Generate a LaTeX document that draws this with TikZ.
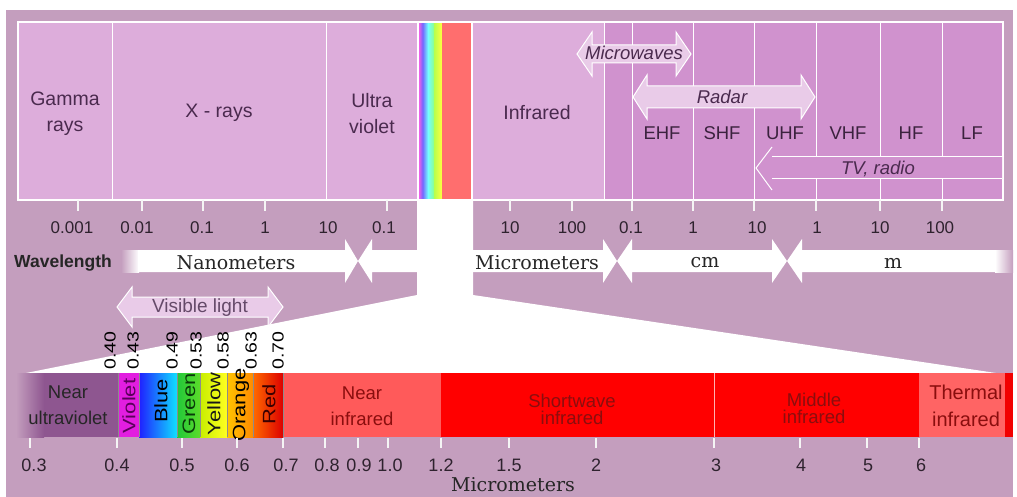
\documentclass[tikz,border=0pt]{standalone}
\usepackage{fontspec}
\setmainfont{Liberation Sans}
\newfontfamily\serifdv{DejaVu Serif}
\usetikzlibrary{calc}

\definecolor{bgmauve}{HTML}{C49EBE}
\definecolor{celllight}{HTML}{DDADDB}
\definecolor{celldark}{HTML}{D092CE}
\definecolor{txtpurple}{HTML}{4A2A4E}
\definecolor{arrowpale}{HTML}{E9CBE8}
\definecolor{numdark}{HTML}{2E222E}
\definecolor{nearuv}{HTML}{8E5690}
\definecolor{violetband}{HTML}{E21EE0}
\definecolor{nirband}{HTML}{FF5A5A}
\definecolor{tirband}{HTML}{FF6464}
\definecolor{darkred}{HTML}{8A0E0E}
\definecolor{salmonstrip}{HTML}{FF6E6E}
\definecolor{blueL}{HTML}{2020FF}
\definecolor{blueR}{HTML}{10E0FF}
\definecolor{greenL}{HTML}{22C83A}
\definecolor{greenR}{HTML}{5CDC2A}
\definecolor{yellowL}{HTML}{C8EE00}
\definecolor{yellowR}{HTML}{FFFF20}
\definecolor{orangeL}{HTML}{FFC400}
\definecolor{orangeR}{HTML}{FF8A00}
\definecolor{redL}{HTML}{FF6A00}
\definecolor{redM}{HTML}{FF1A00}
\definecolor{redR}{HTML}{DC0000}
\definecolor{endstrip}{HTML}{F20000}
\definecolor{violettxt}{HTML}{5A005A}
\definecolor{greentxt}{HTML}{0A3A0A}
\definecolor{redtxt}{HTML}{3A0000}

\newcommand\dblarr[6]{% x1, x2, yc, half shaft, half head, head length
  (#1,#3) -- ({#1+#6},{#3-#5}) -- ({#1+#6},{#3-#4}) -- ({#2-#6},{#3-#4})
  -- ({#2-#6},{#3-#5}) -- (#2,#3) -- ({#2-#6},{#3+#5}) -- ({#2-#6},{#3+#4})
  -- ({#1+#6},{#3+#4}) -- ({#1+#6},{#3+#5}) -- cycle}
% text stretched along its own direction
\newcommand\stretchtxt[1]{\scalebox{1.22}[1]{#1}}

\tikzset{
  celltext/.style={text=txtpurple, font=\fontsize{19.5}{26}\selectfont, align=center, inner sep=0pt},
  bandtext/.style={text=txtpurple!80!black, font=\fontsize{18.5}{22}\selectfont, inner sep=0pt},
  arrowtext/.style={text=txtpurple, font=\fontsize{18.5}{22}\selectfont\itshape, inner sep=0pt},
  scalenum/.style={text=numdark, font=\fontsize{17}{20}\selectfont, inner sep=0pt},
  unittext/.style={text=black!85, font=\serifdv\fontsize{19}{22}\selectfont, inner sep=0pt},
  paleflat/.style={fill=arrowpale, draw=white, line width=1pt, line join=miter},
  whiteline/.style={draw=white, line width=1.2pt},
  tickmark/.style={draw=white!92!gray, line width=1.2pt},
  visnum/.style={text=black, font=\fontsize{16}{18}\selectfont, rotate=90, anchor=west, inner sep=0pt},
  spectext/.style={font=\fontsize{18.5}{26}\selectfont, align=center, inner sep=0pt},
  coltext/.style={font=\fontsize{18}{20}\selectfont, rotate=90, inner sep=0pt},
}

\begin{document}
\begin{tikzpicture}[x=1pt,y=-1pt]
\useasboundingbox (0,0) rectangle (1017,497);
\fill[white] (0,0) rectangle (1017,497);
\fill[bgmauve] (6,10) rectangle (1013,497);

% ---- upper band: regions of the spectrum
\fill[celllight] (18,22) rectangle (604,200);
\fill[celldark] (604,22) rectangle (1003,200);
% visible slice in the upper band
\fill[white] (417,22) rectangle (473,200);
\shade[left color=violetband!70!white, right color=blue!60!white] (419,23) rectangle (423,199);
\shade[left color=blue!55!white, right color=cyan!55!white] (423,23) rectangle (428,199);
\shade[left color=cyan!55!white, right color=green!45!white] (428,23) rectangle (434,199);
\shade[left color=green!40!yellow!70!white, right color=yellow!75!white] (434,23) rectangle (442,199);
\fill[salmonstrip] (442,23) rectangle (471,199);

\draw[whiteline] (18,22) rectangle (1003,200);
\foreach \xx in {112,326,604,632,693,754,816,880,942}
  \draw[whiteline, line width=0.9pt] (\xx,22) -- (\xx,200);

% ---- white funnel leading to the enlarged scale
\fill[white] (417,200) -- (473,200) -- (473,295) -- (996,373) -- (26,373) -- (417,295) -- cycle;

% ---- top band labels
\node[celltext] (gamma) at (65,114) {Gamma\\rays};
\node[celltext] (xray) at (219,113) {X - rays};
\node[celltext] (uv) at (372,114) {Ultra\\violet};
\node[celltext] (ir) at (537,113) {Infrared};
\node[bandtext] (ehf) at (662,133) {EHF};
\node[bandtext] (shf) at (722,133) {SHF};
\node[bandtext] (uhf) at (785,133) {UHF};
\node[bandtext] (vhf) at (848,133) {VHF};
\node[bandtext] (hf) at (911,133) {HF};
\node[bandtext] (lf) at (972,133) {LF};

% TV, radio arrow (outline only)
\fill[celldark] (1002,157) -- (772,157) -- (772,147) -- (756,168) -- (772,190) -- (772,179) -- (1002,179) -- cycle;
\draw[white, line width=1pt] (1002,157) -- (772,157);
\draw[white, line width=1pt] (1002,179) -- (772,179);
\draw[white, line width=1pt] (772,147) -- (756,168) -- (772,190);
\node[arrowtext] (tv) at (878,169) {TV, radio};

% Microwaves and Radar arrows
\path[paleflat] \dblarr{577}{691}{54}{9}{22}{15};
\node[arrowtext] (micro) at (634,53) {Microwaves};
\path[paleflat] \dblarr{633}{815}{97}{11}{22}{14};
\node[arrowtext] (radar) at (722,97) {Radar};

% ---- ticks and numbers under the upper band
\foreach \xx in {78,142,203,265,387,510,572,632,693,754,816,880,942}
  \draw[tickmark] (\xx,200) -- (\xx,211);
\foreach \xx/\lab in {72/0.001,137/0.01,202/0.1,265/1,328/10,384/0.1,510/10,572/100,631/0.1,693/1,757/10,817/1,880/10,940/100}
  \node[scalenum] at (\xx,228) {\lab};

% ---- wavelength unit arrows
\node[text=black!85, font=\fontsize{17.5}{20}\selectfont\bfseries, inner sep=0pt] (wl) at (63,263) {Wavelength};
\shade[left color=bgmauve, right color=white] (121,250) rectangle (139,272);
\fill[white] (138,250) -- (345,250) -- (345,239) -- (358,261) -- (345,283) -- (345,272) -- (138,272) -- cycle;
\fill[white] (358,261) -- (372,239) -- (372,250) -- (418,250) -- (418,272) -- (372,272) -- (372,283) -- cycle;
\fill[white] (472,250) -- (603,250) -- (603,239) -- (617,261) -- (603,283) -- (603,272) -- (472,272) -- cycle;
\fill[white] \dblarr{617}{787}{261}{11}{22}{15};
\fill[white] (787,261) -- (802,239) -- (802,250) -- (996,250) -- (996,272) -- (802,272) -- (802,283) -- cycle;
\shade[left color=white, right color=bgmauve] (995,250) rectangle (1013,272);
\node[unittext] (nano) at (236,263) {Nanometers};
\node[unittext] (microm) at (537,263) {Micrometers};
\node[unittext] (cm) at (705,263) {cm};
\node[unittext] (m) at (893,263) {m};

% ---- visible light arrow
\path[paleflat] \dblarr{117}{283}{307}{10}{20}{15};
\node[text=txtpurple!85!white, font=\fontsize{19}{22}\selectfont, inner sep=0pt] (vis) at (200,308) {Visible light};

% ---- enlarged scale (0.3 to 7 micrometres)
\shade[left color=bgmauve, right color=nearuv] (16,373) rectangle (44,437);
\fill[nearuv] (44,373) rectangle (118,437);
\fill[violetband] (118,373) rectangle (139,437);
\shade[left color=blueL, right color=blueR] (139,373) rectangle (177,437);
\shade[left color=greenL, right color=greenR] (177,373) rectangle (200,437);
\shade[left color=yellowL, right color=yellowR] (200,373) rectangle (227,437);
\shade[left color=orangeL, right color=orangeR] (227,373) rectangle (253,437);
\shade[left color=redL, middle color=redM, right color=redR] (253,373) rectangle (283,437);
\fill[nirband] (283,373) rectangle (441,437);
\fill[red] (441,373) rectangle (919,437);
\fill[tirband] (919,373) rectangle (1005,437);
\fill[endstrip] (1005,373) rectangle (1013,437);
\foreach \xx in {118,139,177,200,227,253,283}
  \draw[black!45, line width=0.5pt] (\xx,373) -- (\xx,437);
\draw[white!70!red, line width=0.6pt] (714,373) -- (714,437);

\node[spectext, text=black!85] (nuv) at (68,405) {Near\\ultraviolet};
\node[coltext, text=violettxt] (cviolet) at (129,406) {\stretchtxt{Violet}};
\node[coltext, text=black] (cblue) at (161,401) {\stretchtxt{Blue}};
\node[coltext, text=greentxt] (cgreen) at (189,404) {\stretchtxt{Green}};
\node[coltext, text=black!90] (cyellow) at (214,404) {\stretchtxt{Yellow}};
\node[coltext, text=black] (corange) at (241,405) {\stretchtxt{Orange}};
\node[coltext, text=redtxt] (cred) at (269,404) {\stretchtxt{Red}};
\node[spectext, text=darkred] (nir) at (362,406) {Near\\infrared};
\node[spectext, text=darkred, font=\fontsize{18.5}{17}\selectfont] (swir) at (572,409) {Shortwave\\infrared};
\node[spectext, text=darkred, font=\fontsize{18.5}{17}\selectfont] (mir) at (814,408) {Middle\\infrared};
\begin{scope}
\clip (919,373) rectangle (1005,437);
\node[spectext, text=darkred, font=\fontsize{20}{27}\selectfont] (tir) at (966,406) {Thermal\\infrared};
\end{scope}

% wavelength values of the colour boundaries
\foreach \xx/\lab in {110/0.40,133/0.43,172/0.49,196/0.53,223/0.58,251/0.63,278/0.70}
  \node[visnum] at (\xx,370) {\stretchtxt{\lab}};

% ---- ticks and numbers of the enlarged scale
\foreach \xx in {30,117,182,237,283,325,358,388,441,509,596,714,800,867,919}
  \draw[tickmark] (\xx,438) -- (\xx,448);
\foreach \xx/\lab in {34/0.3,117/0.4,182/0.5,237/0.6,286/0.7,327/0.8,359/0.9,390/1.0,441/1.2,509/1.5,596/2,716/3,801/4,868/5,921/6}
  \node[scalenum, font=\fontsize{18}{20}\selectfont] at (\xx,465) {\lab};
\node[unittext] (um) at (513,485) {Micrometers};
\end{tikzpicture}
\end{document}
